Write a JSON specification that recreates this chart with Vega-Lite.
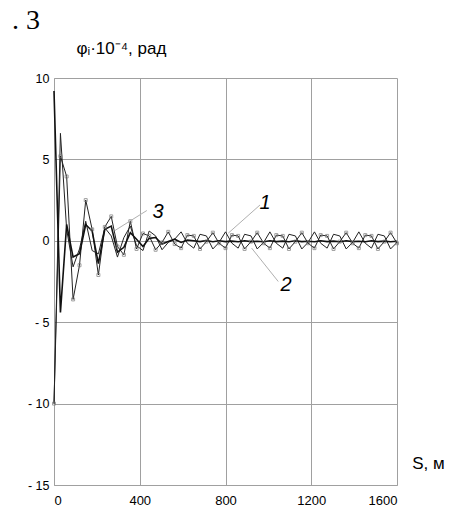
{
  "$schema": "https://vega.github.io/schema/vega-lite/v6.json",
  "width": 343,
  "height": 407,
  "autosize": {"type": "none"},
  "padding": {"left": 54, "top": 78, "right": 56, "bottom": 24},
  "background": "white",
  "title": {"text": ". 3", "anchor": "start", "frame": "group", "font": "Liberation Serif", "fontSize": 28, "fontWeight": "normal", "color": "black", "dx": -42, "offset": -24, "baseline": "bottom"},
  "config": {
    "view": {"stroke": null},
    "axis": {"grid": true, "gridColor": "#a0a0a0", "gridWidth": 1, "domainColor": "#a0a0a0", "ticks": false, "labelColor": "black", "labelFont": "Liberation Sans", "titleFont": "Liberation Sans", "titleColor": "black", "titleFontWeight": "normal"}
  },
  "datasets": {
    "curves": [
      {"s": 0, "a": -10, "b": 9.2, "c": -10},
      {"s": 30, "a": 5.2, "b": -4.4, "c": 6.6},
      {"s": 59, "a": 3.95, "b": 1.0, "c": 0.7},
      {"s": 89, "a": -3.6, "b": -1.0, "c": -1.6},
      {"s": 119, "a": -1.5, "b": -0.8, "c": -0.5},
      {"s": 148, "a": 2.5, "b": 1.0, "c": 1.2},
      {"s": 178, "a": 0.7, "b": 0.6, "c": -0.6},
      {"s": 207, "a": -2.1, "b": -1.4, "c": -0.8},
      {"s": 237, "a": 0.85, "b": 0.7, "c": 0.8},
      {"s": 267, "a": 1.5, "b": 0.9, "c": 0.3},
      {"s": 296, "a": -0.35, "b": -0.7, "c": -1.0},
      {"s": 326, "a": -0.86, "b": -0.4, "c": 0.2},
      {"s": 356, "a": 1.2, "b": 0.5, "c": 0.9},
      {"s": 385, "a": -0.5, "b": 0.1, "c": -0.3},
      {"s": 415, "a": 0.45, "b": -0.35, "c": -0.6},
      {"s": 444, "a": 0.3, "b": 0.15, "c": 0.6},
      {"s": 474, "a": -0.55, "b": 0.2, "c": 0.3},
      {"s": 504, "a": -0.1, "b": -0.2, "c": -0.55},
      {"s": 533, "a": 0.55, "b": -0.05, "c": -0.1},
      {"s": 563, "a": -0.2, "b": 0.1, "c": 0.1},
      {"s": 593, "a": -0.45, "b": -0.1, "c": 0.55},
      {"s": 622, "a": 0.35, "b": 0.05, "c": -0.15},
      {"s": 652, "a": 0.3, "b": 0.0, "c": -0.45},
      {"s": 681, "a": -0.5, "b": -0.05, "c": 0.4},
      {"s": 711, "a": -0.05, "b": 0.02, "c": 0.3},
      {"s": 741, "a": 0.5, "b": -0.06, "c": -0.5},
      {"s": 770, "a": -0.15, "b": 0.0, "c": -0.1},
      {"s": 800, "a": -0.45, "b": -0.05, "c": 0.55},
      {"s": 830, "a": 0.35, "b": -0.02, "c": -0.15},
      {"s": 859, "a": 0.3, "b": -0.06, "c": -0.45},
      {"s": 889, "a": -0.5, "b": 0.0, "c": 0.4},
      {"s": 919, "a": -0.05, "b": -0.05, "c": 0.3},
      {"s": 948, "a": 0.5, "b": -0.03, "c": -0.5},
      {"s": 978, "a": -0.15, "b": -0.06, "c": -0.1},
      {"s": 1007, "a": -0.45, "b": 0.0, "c": 0.55},
      {"s": 1037, "a": 0.35, "b": -0.05, "c": -0.15},
      {"s": 1067, "a": 0.3, "b": -0.02, "c": -0.45},
      {"s": 1096, "a": -0.5, "b": -0.06, "c": 0.4},
      {"s": 1126, "a": -0.05, "b": 0.0, "c": 0.3},
      {"s": 1156, "a": 0.5, "b": -0.05, "c": -0.5},
      {"s": 1185, "a": -0.15, "b": -0.03, "c": -0.1},
      {"s": 1215, "a": -0.45, "b": -0.06, "c": 0.55},
      {"s": 1244, "a": 0.35, "b": 0.0, "c": -0.15},
      {"s": 1274, "a": 0.3, "b": -0.05, "c": -0.45},
      {"s": 1304, "a": -0.5, "b": -0.02, "c": 0.4},
      {"s": 1333, "a": -0.05, "b": -0.06, "c": 0.3},
      {"s": 1363, "a": 0.5, "b": 0.0, "c": -0.5},
      {"s": 1393, "a": -0.15, "b": -0.05, "c": -0.1},
      {"s": 1422, "a": -0.45, "b": -0.03, "c": 0.55},
      {"s": 1452, "a": 0.35, "b": -0.06, "c": -0.15},
      {"s": 1481, "a": 0.3, "b": 0.0, "c": -0.45},
      {"s": 1511, "a": -0.5, "b": -0.05, "c": 0.4},
      {"s": 1541, "a": -0.05, "b": -0.02, "c": 0.3},
      {"s": 1570, "a": 0.5, "b": -0.06, "c": -0.5},
      {"s": 1600, "a": -0.15, "b": -0.03, "c": -0.1}
    ],
    "labels": [
      {"s": 485, "phi": 1.78, "t": "3", "s2": 433, "phi2": 1.86, "s3": 284, "phi3": 0.63},
      {"s": 984, "phi": 2.33, "t": "1", "s2": 961, "phi2": 2.2, "s3": 813, "phi3": 0.47},
      {"s": 1082, "phi": -2.7, "t": "2", "s2": 1046, "phi2": -2.5, "s3": 922, "phi3": -0.45}
    ]
  },
  "layer": [
    {
      "data": {"name": "curves"},
      "transform": [{"fold": ["a", "c"], "as": ["series", "phi"]}],
      "mark": {"type": "line", "color": "#222222", "strokeWidth": 1, "strokeJoin": "miter"},
      "encoding": {
        "x": {"field": "s", "type": "quantitative", "scale": {"domain": [0, 1600], "nice": false},
          "axis": {"values": [0, 400, 800, 1200, 1600], "format": "d", "labelFontSize": 13, "labelPadding": 9, "title": "S, м", "titleFontSize": 17, "titleX": 374, "titleY": -22, "titleAlign": "center", "titleBaseline": "middle"}},
        "y": {"field": "phi", "type": "quantitative", "scale": {"domain": [-15, 10], "nice": false},
          "axis": {"values": [-15, -10, -5, 0, 5, 10], "labelExpr": "datum.value < 0 ? '- ' + abs(datum.value) : datum.label", "labelFontSize": 12.5, "labelPadding": 5, "title": "φᵢ·10⁻⁴, рад", "titleFontSize": 17, "titleAngle": 0, "titleX": 22, "titleY": -30, "titleAlign": "left", "titleBaseline": "middle"}},
        "detail": {"field": "series", "type": "nominal"}
      }
    },
    {
      "data": {"name": "curves"},
      "mark": {"type": "line", "color": "#111111", "strokeWidth": 1.6, "strokeJoin": "miter"},
      "encoding": {
        "x": {"field": "s", "type": "quantitative"},
        "y": {"field": "b", "type": "quantitative"}
      }
    },
    {
      "data": {"name": "curves"},
      "mark": {"type": "point", "shape": "square", "size": 9, "filled": false, "stroke": "#777777", "strokeWidth": 1},
      "encoding": {
        "x": {"field": "s", "type": "quantitative"},
        "y": {"field": "a", "type": "quantitative"}
      }
    },
    {
      "data": {"name": "labels"},
      "mark": {"type": "rule", "color": "#b0b0b0", "strokeWidth": 1},
      "encoding": {
        "x": {"field": "s2", "type": "quantitative"},
        "y": {"field": "phi2", "type": "quantitative"},
        "x2": {"field": "s3"},
        "y2": {"field": "phi3"}
      }
    },
    {
      "data": {"name": "labels"},
      "mark": {"type": "text", "font": "Liberation Sans", "fontSize": 20, "fontStyle": "italic", "color": "black", "align": "center", "baseline": "middle"},
      "encoding": {
        "x": {"field": "s", "type": "quantitative"},
        "y": {"field": "phi", "type": "quantitative"},
        "text": {"field": "t"}
      }
    }
  ]
}
